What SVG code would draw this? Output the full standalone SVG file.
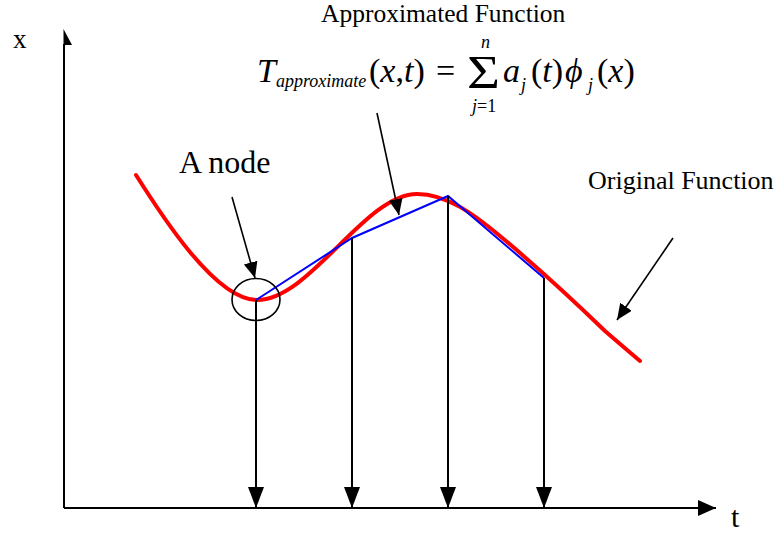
<svg xmlns="http://www.w3.org/2000/svg" width="780" height="533" viewBox="0 0 780 533">
<style>
  text { font-family: "Liberation Serif", "Times New Roman", "DejaVu Serif", serif; fill: #000; }
  .it { font-style: italic; }
  .ax { stroke: #000; stroke-width: 2; fill: none; }
  .ptr { stroke: #000; stroke-width: 1.6; fill: none; }
  .drop { stroke: #000; stroke-width: 2; fill: none; }
</style>
<defs>
  <marker id="headDrop" markerUnits="userSpaceOnUse" markerWidth="22" markerHeight="18" refX="21" refY="8" orient="auto">
    <path d="M0,0 L21,8 L0,16 z" fill="#000"/>
  </marker>
  <marker id="headAxis" markerUnits="userSpaceOnUse" markerWidth="20" markerHeight="18" refX="18" refY="8" orient="auto">
    <path d="M0,0 L18,8 L0,16 z" fill="#000"/>
  </marker>
  <marker id="headPtr" markerUnits="userSpaceOnUse" markerWidth="17" markerHeight="15" refX="16" refY="7" orient="auto">
    <path d="M0,0 L16,7 L0,14 z" fill="#000"/>
  </marker>
</defs>
<rect width="780" height="533" fill="#fff"/>

<g id="axes">
  <line class="ax" x1="64" y1="508" x2="64" y2="44"/>
  <path d="M63.5,29 L72,45 L63.5,45 z" fill="#000"/>
  <line class="ax" x1="64" y1="508" x2="716" y2="508" marker-end="url(#headAxis)"/>
  <text x="13" y="48" font-size="27">x</text>
  <text x="731" y="527" font-size="30">t</text>
</g>

<g id="original-function">
  <path d="M136,175 C160,213 215,300 257,300 C310,300 365,194 417,194 C447,194 475,215 500,236 C530,261 575,302 605,331 Q620,344 640,361" fill="none" stroke="#ff0000" stroke-width="4" stroke-linecap="round" stroke-linejoin="round"/>
</g>

<g id="approximated-function">
  <polyline points="256,300 352,238 448,196 544,278" fill="none" stroke="#0000ff" stroke-width="2"/>
</g>

<g id="node-circle">
  <ellipse cx="256" cy="299.5" rx="24" ry="21" fill="none" stroke="#000" stroke-width="1.6"/>
</g>

<g id="connectors">
  <line class="drop" x1="256" y1="300" x2="256" y2="508" marker-end="url(#headDrop)"/>
  <line class="drop" x1="352" y1="238" x2="352" y2="508" marker-end="url(#headDrop)"/>
  <line class="drop" x1="448" y1="196" x2="448" y2="508" marker-end="url(#headDrop)"/>
  <line class="drop" x1="544" y1="278" x2="544" y2="508" marker-end="url(#headDrop)"/>
  <line class="ptr" x1="232" y1="197" x2="255" y2="278" marker-end="url(#headPtr)"/>
  <line class="ptr" x1="377" y1="113" x2="399" y2="215" marker-end="url(#headPtr)"/>
  <line class="ptr" x1="673" y1="238" x2="617" y2="320" marker-end="url(#headPtr)"/>
</g>

<g id="labels">
  <text x="321" y="22" font-size="25.5">Approximated Function</text>
  <text x="179" y="173" font-size="32">A node</text>
  <text x="588" y="189" font-size="26">Original Function</text>
</g>

<g id="formula">
  <text class="it" x="257" y="82" font-size="34">T</text>
  <text class="it" x="276" y="87" font-size="18">approximate</text>
  <text x="369" y="82" font-size="34">(<tspan class="it">x</tspan>,<tspan class="it">t</tspan>)</text>
  <text x="436" y="82" font-size="34">=</text>
  <text x="467" y="88" font-size="46" textLength="33" lengthAdjust="spacingAndGlyphs">Σ</text>
  <text class="it" x="481" y="48" font-size="18">n</text>
  <text x="472" y="112" font-size="18"><tspan class="it">j</tspan>=1</text>
  <text class="it" x="503" y="82" font-size="34">a</text>
  <text class="it" x="521" y="91" font-size="18">j</text>
  <text x="531" y="82" font-size="34">(<tspan class="it">t</tspan>)</text>
  <text class="it" x="565" y="82" font-size="34">ϕ</text>
  <text class="it" x="588" y="91" font-size="18">j</text>
  <text x="597" y="82" font-size="34">(<tspan class="it">x</tspan>)</text>
</g>
</svg>
